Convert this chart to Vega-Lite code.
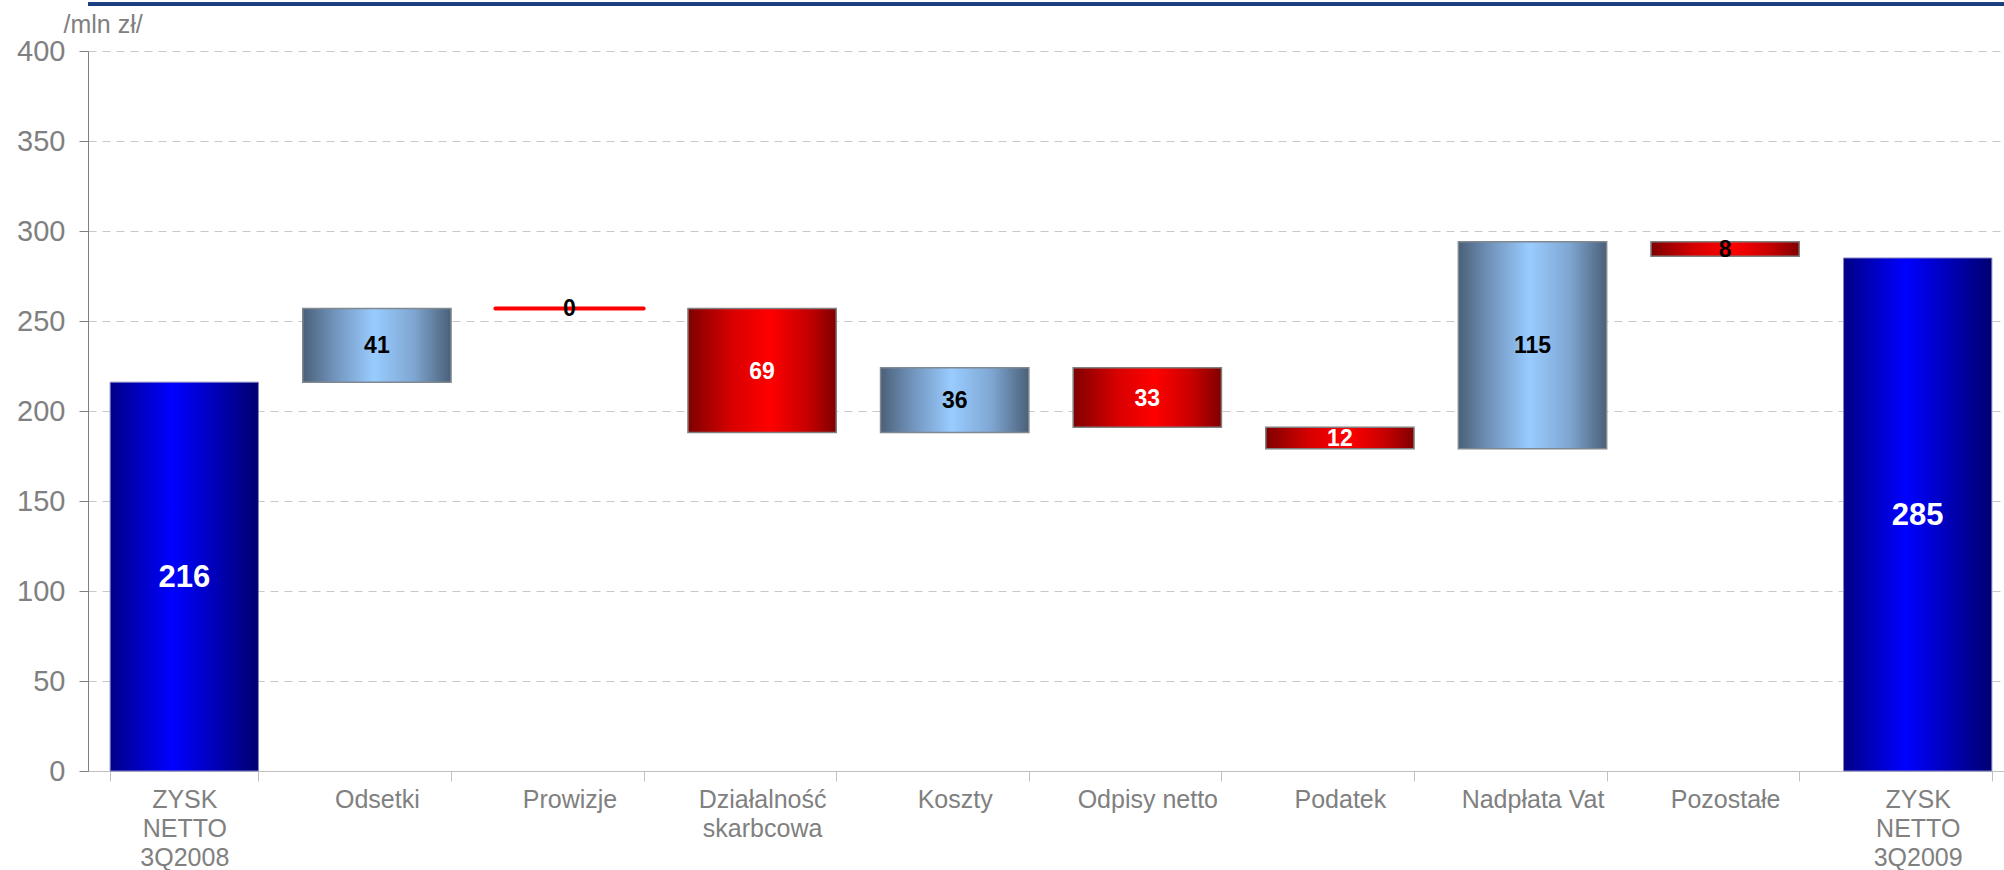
{
  "$schema": "https://vega.github.io/schema/vega-lite/v6.json",
  "width": 1916,
  "height": 720,
  "autosize": {"type": "none"},
  "padding": {"left": 88, "top": 51, "right": 0, "bottom": 99},
  "background": "white",
  "config": {"view": {"stroke": null}, "font": "Liberation Sans"},
  "data": {
    "values": [
      {"category": "ZYSK NETTO 3Q2008", "type": "total", "start": 0, "end": 216, "value": 216},
      {"category": "Odsetki", "type": "increase", "start": 216, "end": 257, "value": 41},
      {"category": "Prowizje", "type": "zero", "start": 257, "end": 257, "value": 0},
      {"category": "Działalność skarbcowa", "type": "decrease", "start": 257, "end": 188, "value": 69},
      {"category": "Koszty", "type": "increase", "start": 188, "end": 224, "value": 36},
      {"category": "Odpisy netto", "type": "decrease", "start": 224, "end": 191, "value": 33},
      {"category": "Podatek", "type": "decrease", "start": 191, "end": 179, "value": 12},
      {"category": "Nadpłata Vat", "type": "increase", "start": 179, "end": 294, "value": 115},
      {"category": "Pozostałe", "type": "decrease", "start": 294, "end": 286, "value": 8},
      {"category": "ZYSK NETTO 3Q2009", "type": "total", "start": 0, "end": 285, "value": 285}
    ]
  },
  "layer": [
    {
      "transform": [{"filter": "datum.type == 'total'"}],
      "mark": {
        "type": "bar",
        "color": {"gradient": "linear", "x1": 0, "x2": 1, "y1": 0, "y2": 0,
          "stops": [{"offset": 0, "color": "#000086"}, {"offset": 0.42, "color": "#0000ff"}, {"offset": 1, "color": "#000070"}]},
        "stroke": "#8080c0", "strokeWidth": 1
      },
      "encoding": {
        "x": {"field": "category", "type": "nominal",
          "sort": ["ZYSK NETTO 3Q2008", "Odsetki", "Prowizje", "Działalność skarbcowa", "Koszty", "Odpisy netto", "Podatek", "Nadpłata Vat", "Pozostałe", "ZYSK NETTO 3Q2009"],
          "scale": {"range": [0, 1926], "paddingInner": 0.23, "paddingOuter": 0.115},
          "axis": {
            "title": null, "labelAngle": 0, "labelFontSize": 25, "labelColor": "#808080",
            "labelLineHeight": 29, "labelPadding": 6, "tickSize": 10, "tickBand": "extent",
            "tickColor": "#c0c0c0", "domainColor": "#c0c0c0", "labelLimit": 0, "grid": false,
            "labelExpr": "indexof(datum.label,'ZYSK')==0 || indexof(datum.label,'Dzia')==0 ? split(datum.label,' ') : datum.label"
          }},
        "y": {"field": "start", "type": "quantitative", "scale": {"domain": [0, 400], "nice": false, "zero": false},
          "axis": {
            "title": "/mln zł/", "titleAngle": 0, "titleAlign": "left", "titleBaseline": "alphabetic",
            "titleX": -25, "titleY": -19, "titleFontSize": 25, "titleFontWeight": "normal", "titleColor": "#808080",
            "values": [0, 50, 100, 150, 200, 250, 300, 350, 400],
            "labelFontSize": 29, "labelColor": "#808080", "labelPadding": 14,
            "tickSize": 9, "tickColor": "#808080", "domainColor": "#808080",
            "grid": true, "gridColor": "#c8c8c8", "gridDash": [8, 6], "gridWidth": 1
          }},
        "y2": {"field": "end"}
      }
    },
    {
      "transform": [{"filter": "datum.type == 'increase'"}],
      "mark": {
        "type": "bar",
        "color": {"gradient": "linear", "x1": 0, "x2": 1, "y1": 0, "y2": 0,
          "stops": [{"offset": 0, "color": "#4a6078"}, {"offset": 0.2, "color": "#6f90b8"}, {"offset": 0.48, "color": "#99ccff"}, {"offset": 0.75, "color": "#7fa6d2"}, {"offset": 1, "color": "#4a6078"}]},
        "stroke": "#808890", "strokeWidth": 1.5
      },
      "encoding": {
        "x": {"field": "category", "type": "nominal",
          "sort": ["ZYSK NETTO 3Q2008", "Odsetki", "Prowizje", "Działalność skarbcowa", "Koszty", "Odpisy netto", "Podatek", "Nadpłata Vat", "Pozostałe", "ZYSK NETTO 3Q2009"]},
        "y": {"field": "start", "type": "quantitative", "scale": {"domain": [0, 400], "nice": false, "zero": false}},
        "y2": {"field": "end"}
      }
    },
    {
      "transform": [{"filter": "datum.type == 'decrease'"}],
      "mark": {
        "type": "bar",
        "color": {"gradient": "linear", "x1": 0, "x2": 1, "y1": 0, "y2": 0,
          "stops": [{"offset": 0, "color": "#800000"}, {"offset": 0.3, "color": "#d80000"}, {"offset": 0.55, "color": "#ff0000"}, {"offset": 0.8, "color": "#c80000"}, {"offset": 1, "color": "#800000"}]},
        "stroke": "#808080", "strokeWidth": 1.5
      },
      "encoding": {
        "x": {"field": "category", "type": "nominal",
          "sort": ["ZYSK NETTO 3Q2008", "Odsetki", "Prowizje", "Działalność skarbcowa", "Koszty", "Odpisy netto", "Podatek", "Nadpłata Vat", "Pozostałe", "ZYSK NETTO 3Q2009"]},
        "y": {"field": "start", "type": "quantitative", "scale": {"domain": [0, 400], "nice": false, "zero": false}},
        "y2": {"field": "end"}
      }
    },
    {
      "transform": [{"filter": "datum.type == 'zero'"}],
      "mark": {"type": "bar", "fill": null, "stroke": "#ff0000", "strokeWidth": 4, "strokeCap": "round", "strokeJoin": "round"},
      "encoding": {
        "x": {"field": "category", "type": "nominal",
          "sort": ["ZYSK NETTO 3Q2008", "Odsetki", "Prowizje", "Działalność skarbcowa", "Koszty", "Odpisy netto", "Podatek", "Nadpłata Vat", "Pozostałe", "ZYSK NETTO 3Q2009"]},
        "y": {"field": "start", "type": "quantitative", "scale": {"domain": [0, 400], "nice": false, "zero": false}},
        "y2": {"field": "end"}
      }
    },
    {
      "transform": [{"calculate": "(datum.start + datum.end) / 2", "as": "mid"}],
      "mark": {"type": "text", "fontWeight": "bold", "baseline": "middle", "align": "center", "dy": 1},
      "encoding": {
        "x": {"field": "category", "type": "nominal",
          "sort": ["ZYSK NETTO 3Q2008", "Odsetki", "Prowizje", "Działalność skarbcowa", "Koszty", "Odpisy netto", "Podatek", "Nadpłata Vat", "Pozostałe", "ZYSK NETTO 3Q2009"]},
        "y": {"field": "mid", "type": "quantitative", "scale": {"domain": [0, 400], "nice": false, "zero": false}},
        "text": {"field": "value", "type": "quantitative"},
        "size": {"condition": {"test": "datum.type == 'total'", "value": 31}, "value": 23},
        "color": {"condition": {"test": "datum.type == 'increase' || datum.type == 'zero' || datum.category == 'Pozostałe'", "value": "#000000"}, "value": "#ffffff"}
      }
    },
    {
      "mark": {"type": "rule", "color": "#1a3d80", "strokeWidth": 3},
      "encoding": {
        "y": {"datum": 426, "type": "quantitative", "scale": {"domain": [0, 400], "nice": false, "zero": false}}
      }
    }
  ]
}
